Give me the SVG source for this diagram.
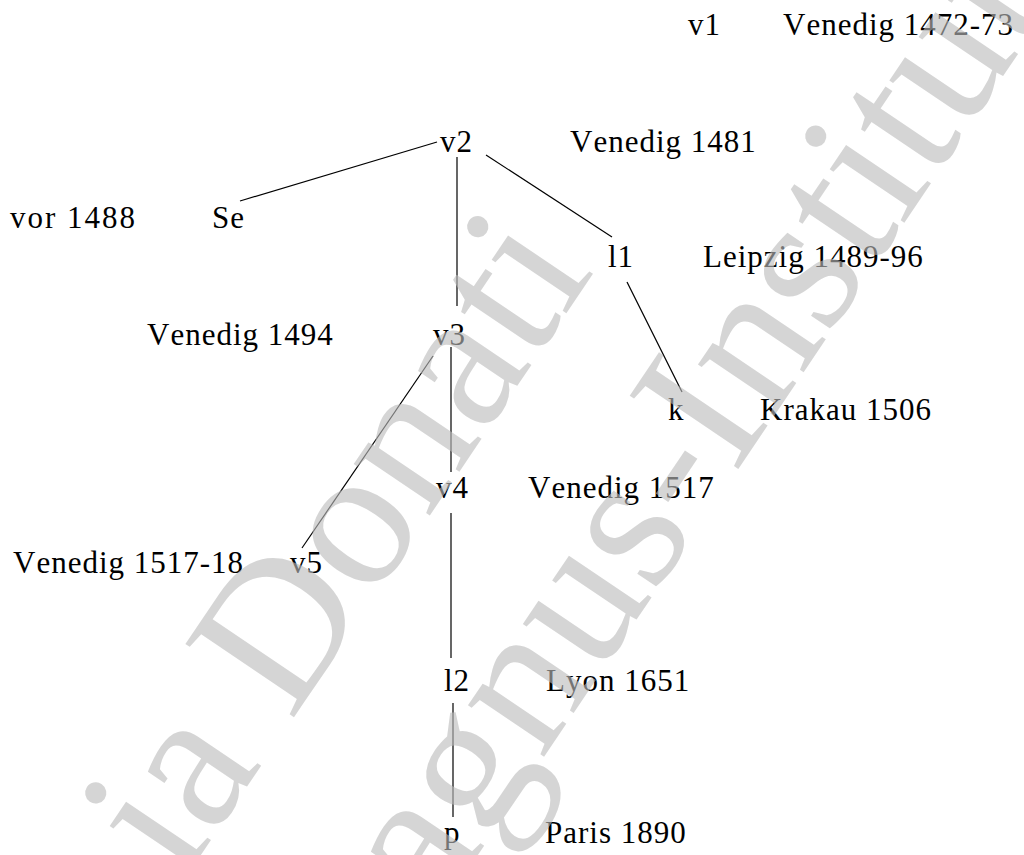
<svg xmlns="http://www.w3.org/2000/svg" width="1024" height="855" viewBox="0 0 1024 855">
  <style>
    .lbl { font-family: "Liberation Serif", "Times New Roman", serif; font-size: 31px; letter-spacing: 1px; font-kerning: none; fill: #000; }
    .edge { stroke: #000; stroke-width: 1.2; fill: none; }
    .wm { font-family: "Liberation Serif", "Times New Roman", serif; font-size: 200px; fill: #bbbbbb; fill-opacity: 0.62; }
  </style>
  <rect width="1024" height="855" fill="#fff"/>

  <!-- connectors of the stemma -->
  <g id="connectors">
    <line class="edge" x1="240" y1="201" x2="437" y2="142"/>
    <line class="edge" x1="457" y1="157" x2="457" y2="306"/>
    <line class="edge" x1="486" y1="155" x2="612" y2="237"/>
    <line class="edge" x1="627" y1="282" x2="682" y2="392"/>
    <line class="edge" x1="451" y1="347" x2="451" y2="472"/>
    <line class="edge" x1="433" y1="356" x2="302" y2="548"/>
    <line class="edge" x1="451" y1="513" x2="451" y2="658"/>
    <line class="edge" x1="453" y1="703" x2="453" y2="817"/>
  </g>

  <!-- witnesses with place and date -->
  <g id="v1">
    <text class="lbl" x="688" y="35">v1</text>
    <text class="lbl" x="783" y="35">Venedig 1472-73</text>
  </g>
  <g id="v2">
    <text class="lbl" x="440" y="152">v2</text>
    <text class="lbl" x="570" y="152">Venedig 1481</text>
  </g>
  <g id="Se">
    <text class="lbl" x="10" y="228" style="letter-spacing:2px">vor 1488</text>
    <text class="lbl" x="212" y="228">Se</text>
  </g>
  <g id="l1">
    <text class="lbl" x="608" y="267">l1</text>
    <text class="lbl" x="703" y="267">Leipzig 1489-96</text>
  </g>
  <g id="v3">
    <text class="lbl" x="147" y="345">Venedig 1494</text>
    <text class="lbl" x="433" y="345">v3</text>
  </g>
  <g id="k">
    <text class="lbl" x="668" y="420">k</text>
    <text class="lbl" x="760" y="420">Krakau 1506</text>
  </g>
  <g id="v4">
    <text class="lbl" x="436" y="498">v4</text>
    <text class="lbl" x="528" y="498">Venedig 1517</text>
  </g>
  <g id="v5">
    <text class="lbl" x="13" y="573">Venedig 1517-18</text>
    <text class="lbl" x="290" y="573">v5</text>
  </g>
  <g id="l2">
    <text class="lbl" x="444" y="691">l2</text>
    <text class="lbl" x="546" y="691">Lyon 1651</text>
  </g>
  <g id="p">
    <text class="lbl" x="444" y="843">p</text>
    <text class="lbl" x="545" y="843">Paris 1890</text>
  </g>

  <!-- diagonal watermark lettering laid over the page -->
  <g id="watermark">
    <text class="wm" transform="translate(182,883) rotate(-56)">ia Donati</text>
    <text class="wm" transform="translate(436,917) rotate(-56)">agnus-Institut</text>
  </g>
</svg>
